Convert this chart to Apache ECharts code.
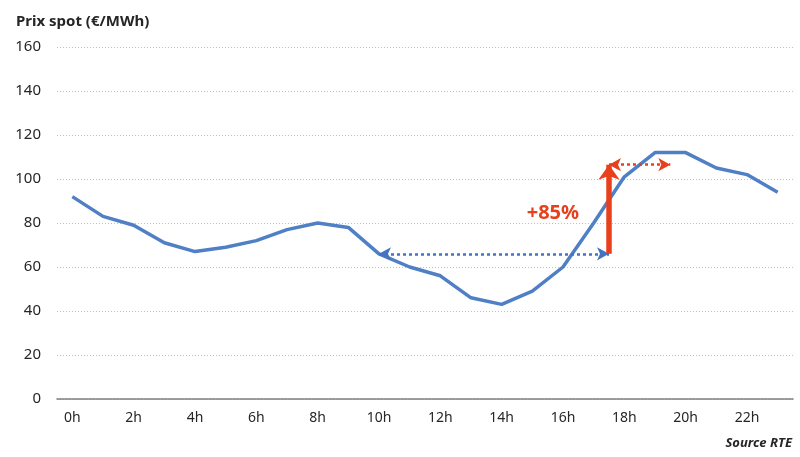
<!DOCTYPE html>
<html><head><meta charset="utf-8">
<script src="https://cdn.jsdelivr.net/npm/echarts@6/dist/echarts.min.js"></script>
<style>html,body{margin:0;padding:0;background:#fff}#c{width:800px;height:457px}</style>
</head><body><div id="c"></div>
<script>
const hours = ['0h','1h','2h','3h','4h','5h','6h','7h','8h','9h','10h','11h','12h','13h','14h','15h','16h','17h','18h','19h','20h','21h','22h','23h'];
const prices = [92,83,79,71,67,69,72,77,80,78,66,60,56,46,43,49,60,80,101,112,112,105,102,94];
const yTicks = [0,20,40,60,80,100,120,140,160];
// annotation anchors (hour position, price value)
const baseArrow = [[10,66],[17.5,66]];
const riseArrow = [[17.5,66],[17.5,106.5]];
const peakArrow = [[17.5,106.5],[19.5,106.5]];
const pctLabel = {hour:15.67, price:84.5, text:'+85%'};

const FONT = 'Noto Sans';
const chart = echarts.init(document.getElementById('c'));
chart.setOption({
  animation:false,
  textStyle:{fontFamily:FONT},
  title:[
    {text:'Prix spot (€/MWh)', left:11, top:9, textStyle:{fontFamily:FONT,fontSize:15,fontWeight:'bold',color:'#262626'}},
    {text:'Source RTE', right:3, bottom:2, textStyle:{fontFamily:FONT,fontSize:13,fontWeight:'bold',fontStyle:'italic',color:'#262626'}}
  ],
  grid:{left:57,right:7,top:47,bottom:58,containLabel:false},
  xAxis:[{
    type:'category', data:hours, boundaryGap:true,
    axisLine:{show:true,lineStyle:{color:'#7f7f7f',width:1.5}},
    axisTick:{show:false},
    axisLabel:{interval:1,color:'#262626',fontSize:14,margin:12,fontFamily:FONT},
    splitLine:{show:false}
  },{
    type:'value', min:-0.5, max:23.5, show:false, position:'bottom'
  }],
  yAxis:{
    type:'value', min:yTicks[0], max:yTicks[yTicks.length-1], interval:20,
    axisLine:{show:false}, axisTick:{show:false},
    axisLabel:{color:'#262626',fontSize:15,margin:16,fontFamily:FONT},
    splitLine:{show:true,lineStyle:{color:'#bfbfbf',type:[1,2],width:1}}
  },
  series:[{
    type:'line', data:prices, xAxisIndex:0, symbol:'none',
    lineStyle:{color:'#4f7fc4',width:3.5}, z:3
  },{
    type:'line', xAxisIndex:1, data:[], symbol:'none', z:5,
    markLine:{
      silent:true, animation:false,
      label:{show:false},
      emphasis:{disabled:true},
      data:[
        [{coord:baseArrow[0],symbol:'arrow',symbolSize:[10,12],lineStyle:{color:'#4472c4',width:2.5,type:[3,3]}},
         {coord:baseArrow[1],symbol:'arrow',symbolSize:[10,12]}],
        [{coord:peakArrow[0],symbol:'arrow',symbolSize:[10,12],lineStyle:{color:'#e8401c',width:2.5,type:[3,3]}},
         {coord:peakArrow[1],symbol:'arrow',symbolSize:[10,12]}],
        [{coord:riseArrow[0],symbol:'none',lineStyle:{color:'#e8401c',width:5.5,type:'solid'}},
         {coord:riseArrow[1],symbol:'arrow',symbolSize:[16,15]}]
      ]
    },
    markPoint:{
      silent:true, symbol:'circle', symbolSize:0,
      data:[{coord:[pctLabel.hour,pctLabel.price], value:pctLabel.text,
        label:{show:true,position:'inside',formatter:pctLabel.text,color:'#e8401c',fontSize:20,fontWeight:'bold',fontFamily:FONT}}]
    }
  }]
});
</script></body></html>
